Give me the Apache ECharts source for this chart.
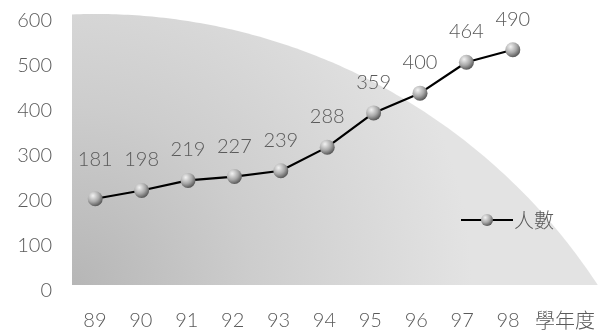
<!DOCTYPE html>
<html><head><meta charset="utf-8">
<script src="https://cdn.jsdelivr.net/npm/echarts@6/dist/echarts.min.js"></script>
<style>html,body{margin:0;padding:0;background:#fff}#c{width:598px;height:333px}</style>
</head><body><div id="c"></div>
<script>
const categories = ['89','90','91','92','93','94','95','96','97','98'];
const students = [181,198,219,227,239,288,359,400,464,490];
const yTicks = [0,100,200,300,400,500,600];
const seriesName = '人數';
const xAxisName = '學年度';

const chart = echarts.init(document.getElementById('c'), null, {renderer:'canvas'});
const textColor = '#5a5a5a';
const numFont = 'Lato';
const numWeight = 300;
const cjkFont = '"Noto Sans CJK TC", "Noto Sans CJK SC", sans-serif';
const sphere = new echarts.graphic.RadialGradient(0.35, 0.3, 0.75, [{offset:0,color:'#f2f2f2'},{offset:0.55,color:'#a8a8a8'},{offset:1,color:'#505050'}]);

// decorative backdrop: part of a large circle clipped to the plot box
function backdropPoints(){
  const cx = 96, cy = 614, r = 600, left = 72, bottom = 285;
  const pts = [[left, bottom]];
  for (let x = left; x <= 598; x += 4) {
    const d = r*r - (x-cx)*(x-cx);
    if (d < 0) break;
    const y = cy - Math.sqrt(d);
    if (y > bottom) { break; }
    pts.push([x, y]);
  }
  const xEnd = cx + Math.sqrt(r*r - (bottom-cy)*(bottom-cy));
  pts.push([xEnd, bottom]);
  return pts;
}

chart.setOption({
  animation:false,
  graphic:[{
    type:'polygon', z:-10, silent:true,
    shape:{points:backdropPoints()},
    style:{fill:new echarts.graphic.RadialGradient(72, 285, 400,
      [{offset:0,color:'#b6b6b6'},{offset:0.45,color:'#cdcdcd'},{offset:1,color:'#e3e3e3'}], true)}
  }],
  grid:[
    {left:72, right:62, top:16, bottom:47},
    {left:72, right:62, top:21, bottom:42}
  ],
  xAxis:[
    {type:'category', gridIndex:0, data:categories, show:false},
    {type:'category', gridIndex:1, data:categories,
     axisLine:{show:false}, axisTick:{show:false}, splitLine:{show:false},
     axisLabel:{margin:20, color:textColor, fontFamily:numFont, fontWeight:numWeight, fontSize:20},
     name:xAxisName, nameLocation:'end', nameGap:4,
     nameTextStyle:{color:textColor, fontFamily:cjkFont, fontWeight:300, fontSize:20, verticalAlign:'top', align:'left', padding:[19,0,0,0]}}
  ],
  yAxis:[
    {type:'value', gridIndex:0, min:0, max:560, show:false},
    {type:'value', gridIndex:1, min:yTicks[0], max:yTicks[yTicks.length-1], interval:100,
     axisLine:{show:false}, axisTick:{show:false}, splitLine:{show:false},
     axisLabel:{margin:20, color:textColor, fontFamily:numFont, fontWeight:numWeight, fontSize:20}}
  ],
  legend:{
    left:455, top:205, itemWidth:52, itemHeight:15, itemGap:4,
    data:[seriesName],
    textStyle:{color:textColor, fontFamily:cjkFont, fontWeight:300, fontSize:20, padding:[0,0,0,-4]}
  },
  series:[{
    name:seriesName, type:'line', xAxisIndex:0, yAxisIndex:0,
    data:students.map((v,i)=> i===0 ? {value:v, label:{distance:22}} : v),
    symbol:'circle', symbolSize:15,
    lineStyle:{color:'#000', width:2.2},
    itemStyle:{color:sphere, borderWidth:0},
    label:{show:true, position:'top', distance:13, color:textColor, fontFamily:numFont, fontWeight:numWeight, fontSize:20}
  }]
});
</script></body></html>
